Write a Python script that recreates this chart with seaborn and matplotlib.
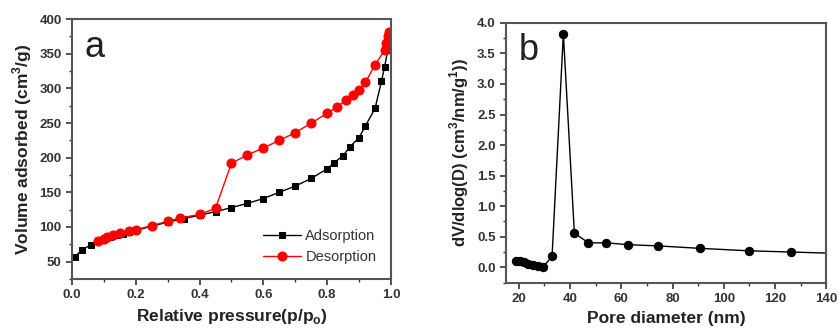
import matplotlib
matplotlib.use("Agg")
import matplotlib.pyplot as plt
import seaborn as sns
import pandas as pd
from matplotlib.ticker import AutoMinorLocator

# ---- data ----
ads_p = [0.01, 0.03, 0.06, 0.08, 0.10, 0.12, 0.14, 0.16, 0.18, 0.20, 0.25, 0.30, 0.35,
         0.40, 0.45, 0.50, 0.55, 0.60, 0.65, 0.70, 0.75, 0.80, 0.82, 0.85, 0.87, 0.90,
         0.92, 0.95, 0.97, 0.98, 0.99, 0.995]
ads_v = [57, 67, 74, 79, 82, 85, 88, 90, 92, 95, 101, 107, 112,
         117, 122, 128, 134, 141, 150, 159, 170, 184, 192, 203, 215, 229,
         246, 271, 310, 331, 356, 380]

des_p = [0.08, 0.10, 0.11, 0.13, 0.15, 0.18, 0.20, 0.25, 0.30, 0.34, 0.40, 0.45, 0.50,
         0.55, 0.60, 0.65, 0.70, 0.75, 0.80, 0.83, 0.86, 0.88, 0.90, 0.92, 0.95, 0.98,
         0.985, 0.99, 0.995]
des_v = [79, 83, 85, 88, 91, 94, 96, 102, 108, 113, 118, 127, 192,
         204, 214, 225, 236, 250, 264, 273, 283, 291, 298, 309, 334, 355,
         365, 375, 382]

pore_d = [19.0, 20.5, 22.0, 23.8, 25.7, 27.7, 29.4, 33.0, 37.4, 41.7, 47.2, 54.1,
          62.8, 74.3, 90.8, 109.7, 126.2, 150.0]
pore_v = [0.10, 0.095, 0.08, 0.06, 0.04, 0.02, 0.00, 0.18, 3.82, 0.56, 0.40, 0.40,
          0.37, 0.35, 0.31, 0.27, 0.25, 0.22]

x_ticks_a = [0.0, 0.2, 0.4, 0.6, 0.8, 1.0]
y_ticks_a = [50, 100, 150, 200, 250, 300, 350, 400]
x_ticks_b = [20, 40, 60, 80, 100, 120, 140]
y_ticks_b = [0.0, 0.5, 1.0, 1.5, 2.0, 2.5, 3.0, 3.5, 4.0]

sns.set_style("white")
plt.rcParams["font.family"] = ["Liberation Sans", "DejaVu Sans"]

fig = plt.figure(figsize=(8.39, 3.36), dpi=100)
ax1 = fig.add_axes([0.0858, 0.170, 0.3802, 0.773])
ax2 = fig.add_axes([0.603, 0.159, 0.382, 0.773])

df_a = pd.DataFrame({"p": ads_p, "v": ads_v})
df_d = pd.DataFrame({"p": des_p, "v": des_v})
df_b = pd.DataFrame({"d": pore_d, "v": pore_v})

sns.lineplot(data=df_a, x="p", y="v", ax=ax1, color="black", marker="s",
             markersize=5, markeredgecolor="black", linewidth=1.0, label="Adsorption")
sns.lineplot(data=df_d, x="p", y="v", ax=ax1, color="#ff0000", marker="o",
             markersize=6.5, markeredgecolor="#ff0000", linewidth=1.0, label="Desorption")

sns.lineplot(data=df_b, x="d", y="v", ax=ax2, color="black", marker="o",
             markersize=6, markeredgecolor="black", linewidth=1.0)

tick_col = "#333333"
spine_col = "#555555"
lab_col = "#222222"

ax1.set_xlim(0.0, 1.0)
ax1.set_ylim(25, 400)
ax1.set_xticks(x_ticks_a)
ax1.set_xticklabels([f"{t:.1f}" for t in x_ticks_a])
ax1.set_yticks(y_ticks_a)
ax1.set_xlabel("Relative pressure(p/p$_\\mathregular{o}$)", fontsize=12.5, fontweight="bold", color=lab_col)
ax1.set_ylabel("Volume adsorbed (cm$^\\mathregular{3}$/g)", fontsize=12.5, fontweight="bold", color=lab_col)
ax1.text(0.04, 0.96, "a", transform=ax1.transAxes, fontsize=26, va="top", ha="left", color=lab_col)
leg = ax1.legend(loc="lower right", frameon=False, fontsize=10.5, handlelength=2.6,
                 borderaxespad=0.6, handletextpad=0.3, labelspacing=0.5)
for t in leg.get_texts():
    t.set_color("#333333")

ax2.set_xlim(15, 140)
ax2.set_ylim(-0.25, 4.0)
ax2.set_xticks(x_ticks_b)
ax2.set_yticks(y_ticks_b)
ax2.set_yticklabels([f"{t:.1f}" for t in y_ticks_b])
ax2.set_xlabel("Pore diameter (nm)", fontsize=12.5, fontweight="bold", color=lab_col)
ax2.set_ylabel("dV/dlog(D) (cm$^\\mathregular{3}$/nm/g$^\\mathregular{1}$))", fontsize=12, fontweight="bold", color=lab_col)
ax2.text(0.04, 0.96, "b", transform=ax2.transAxes, fontsize=26, va="top", ha="left", color=lab_col)

for ax in (ax1, ax2):
    ax.xaxis.set_minor_locator(AutoMinorLocator(2))
    ax.yaxis.set_minor_locator(AutoMinorLocator(2))
    ax.tick_params(axis="both", which="major", direction="out", length=4, width=1.2,
                   labelsize=9.5, colors=tick_col, bottom=True, left=True, top=False, right=False)
    ax.tick_params(axis="both", which="minor", direction="out", length=2.5, width=1.0,
                   colors=tick_col, bottom=True, left=True, top=False, right=False)
    for lab in ax.get_xticklabels() + ax.get_yticklabels():
        lab.set_fontweight("bold")
    for s in ax.spines.values():
        s.set_color(spine_col)
        s.set_linewidth(1.5)
    ax.grid(False)

fig.savefig("out.png", dpi=100)
